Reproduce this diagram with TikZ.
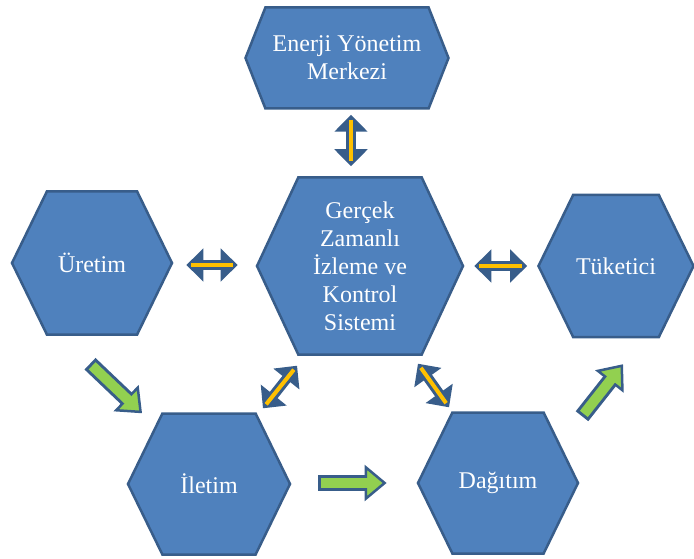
\documentclass[tikz,border=0pt]{standalone}
\usepackage{fontspec}
\setmainfont{Liberation Serif}
\usetikzlibrary{shapes.symbols, arrows.meta}
\definecolor{hexfill}{HTML}{4F81BD}
\definecolor{hexedge}{HTML}{385D8A}
\definecolor{gold}{HTML}{FFC000}
\definecolor{leaf}{HTML}{92D050}

\begin{document}
\begin{tikzpicture}[x=1pt, y=-1pt,
  hexa/.style={signal, signal to=west and east, signal pointer angle=128, draw=hexedge, line width=2.5pt, fill=hexfill, text=white, inner sep=0pt, font=\fontsize{24}{28}\selectfont, align=center},
  sync/.style={draw=hexedge, line width=10pt, {Triangle[length=17pt, width=33pt, fill=hexedge, line width=2pt]}-{Triangle[length=17pt, width=33pt, fill=hexedge, line width=2pt]}, postaction={draw=gold, line width=4pt, -, shorten <=5pt, shorten >=5pt}},
  flow/.style={draw=hexedge, line width=16pt, -{Triangle[length=22pt, width=36pt, fill=leaf, line width=2.5pt]}, postaction={draw=leaf, line width=10pt, -, shorten <=3pt, shorten >=17pt}}]
  \useasboundingbox (0,0) rectangle (694,559);

  % hexagons
  \node[hexa, signal pointer angle=137, minimum width=203pt, minimum height=101pt] (ems) at (347,58) {Enerji Yönetim\\Merkezi};
  \node[hexa, signal pointer angle=130, minimum width=206pt, minimum height=177pt] (gzik) at (360,266) {Gerçek\\Zamanlı\\İzleme ve\\Kontrol\\Sistemi};
  \node[hexa, minimum width=160pt, minimum height=143pt] (uretim) at (92,263) {Üretim};
  \node[hexa, minimum width=155pt, minimum height=142pt] (tuketici) at (616,266) {Tüketici};
  \node[hexa, minimum width=162pt, minimum height=141pt] (iletim) at (209,484) {İletim};
  \node[hexa, minimum width=160pt, minimum height=141pt] (dagitim) at (498,483) {Dağıtım};

  % data links
  \draw[sync] ([shift={(4,5)}]ems.south) -- ([shift={(-9,-10)}]gzik.north);
  \draw[sync] ([shift={(13,2)}]uretim.east) -- ([shift={(-18,-1)}]gzik.west);
  \draw[sync] ([xshift=10pt]gzik.east) -- ([xshift=-10pt]tuketici.west);
  \draw[sync] ([shift={(54,-4)}]iletim.north) -- ([shift={(-63,10)}]gzik.south);
  \draw[sync] ([shift={(58,8)}]gzik.south) -- ([shift={(-49,-4)}]dagitim.north);

  % energy flow
  \draw[flow] ([shift={(-2,28)}]uretim.south) -- ([shift={(-67,1)}]iletim.north);
  \draw[flow] ([shift={(27,-1)}]iletim.east) -- ([xshift=-30pt]dagitim.west);
  \draw[flow] ([shift={(84,5)}]dagitim.north) -- ([shift={(7,26)}]tuketici.south);
\end{tikzpicture}
\end{document}
